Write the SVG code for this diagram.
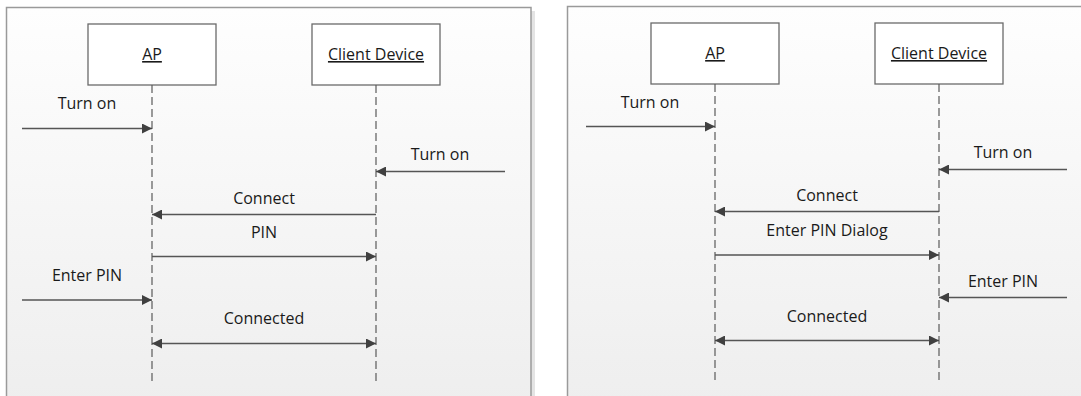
<svg xmlns="http://www.w3.org/2000/svg" width="1081" height="396" viewBox="0 0 1081 396">
  <defs>
    <linearGradient id="panelFill" x1="0" y1="0" x2="0" y2="1">
      <stop offset="0" stop-color="#fefefe"/>
      <stop offset="1" stop-color="#eeeeee"/>
    </linearGradient>
    <marker id="head" viewBox="0 0 10 10" refX="10" refY="5" markerWidth="10" markerHeight="10" markerUnits="userSpaceOnUse" orient="auto-start-reverse">
      <path d="M0,0 L10,5 L0,10 z" fill="#404040"/>
    </marker>
    <style>
      .panel { fill: url(#panelFill); stroke: #9a9a9a; stroke-width: 1.5; }
      .shadow { fill: #e4e4e4; }
      .box { fill: #ffffff; stroke: #6a6a6a; stroke-width: 1.3; }
      .life { stroke: #5a5a5a; stroke-width: 1.2; stroke-dasharray: 8 4; fill: none; }
      .msg { stroke: #555555; stroke-width: 1.4; fill: none; }
      .lbl { font-family: "Open Sans", "Liberation Sans", sans-serif; font-size: 16px; fill: #1a1a1a; text-anchor: middle; }
      .title { text-decoration: underline; }
    </style>
  </defs>

  <rect width="1081" height="396" fill="#ffffff"/>

  <!-- left scenario frame -->
  <g id="frame-left">
    <rect class="shadow" x="531" y="11" width="4" height="390"/>
    <rect class="panel" x="6.5" y="7.5" width="524.5" height="400"/>
  </g>

  <!-- right scenario frame -->
  <g id="frame-right">
    <rect class="panel" x="567.5" y="6.5" width="530" height="400"/>
  </g>

  <!-- left scenario participants -->
  <g id="ap-left">
    <rect class="box" x="88" y="24" width="128" height="61"/>
    <text class="lbl title" x="152" y="60">AP</text>
    <line class="life" x1="152" y1="85" x2="152" y2="383"/>
  </g>
  <g id="client-left">
    <rect class="box" x="312" y="24" width="128" height="61"/>
    <text class="lbl title" x="376" y="60">Client Device</text>
    <line class="life" x1="376" y1="85" x2="376" y2="383"/>
  </g>

  <!-- right scenario participants -->
  <g id="ap-right">
    <rect class="box" x="651" y="23" width="128" height="61"/>
    <text class="lbl title" x="715" y="59">AP</text>
    <line class="life" x1="715" y1="84" x2="715" y2="381"/>
  </g>
  <g id="client-right">
    <rect class="box" x="875" y="23" width="128" height="61"/>
    <text class="lbl title" x="939" y="59">Client Device</text>
    <line class="life" x1="939" y1="84" x2="939" y2="381"/>
  </g>

  <!-- messages -->
  <g id="connectors">
    <!-- left scenario -->
    <line class="msg" x1="22" y1="128.5" x2="152" y2="128.5" marker-end="url(#head)"/>
    <text class="lbl" x="87" y="109">Turn on</text>

    <line class="msg" x1="505" y1="171.5" x2="376" y2="171.5" marker-end="url(#head)"/>
    <text class="lbl" x="440" y="160">Turn on</text>

    <line class="msg" x1="376" y1="214.5" x2="152" y2="214.5" marker-end="url(#head)"/>
    <text class="lbl" x="264" y="204">Connect</text>

    <line class="msg" x1="152" y1="256.5" x2="376" y2="256.5" marker-end="url(#head)"/>
    <text class="lbl" x="264" y="238">PIN</text>

    <line class="msg" x1="22" y1="300" x2="152" y2="300" marker-end="url(#head)"/>
    <text class="lbl" x="87" y="281">Enter PIN</text>

    <line class="msg" x1="152" y1="343.5" x2="376" y2="343.5" marker-start="url(#head)" marker-end="url(#head)"/>
    <text class="lbl" x="264" y="324">Connected</text>

    <!-- right scenario -->
    <line class="msg" x1="586" y1="126.5" x2="715" y2="126.5" marker-end="url(#head)"/>
    <text class="lbl" x="650" y="108">Turn on</text>

    <line class="msg" x1="1067" y1="169.5" x2="939" y2="169.5" marker-end="url(#head)"/>
    <text class="lbl" x="1003" y="158">Turn on</text>

    <line class="msg" x1="939" y1="211.5" x2="715" y2="211.5" marker-end="url(#head)"/>
    <text class="lbl" x="827" y="201">Connect</text>

    <line class="msg" x1="715" y1="255" x2="939" y2="255" marker-end="url(#head)"/>
    <text class="lbl" x="827" y="236">Enter PIN Dialog</text>

    <line class="msg" x1="1067" y1="297.5" x2="939" y2="297.5" marker-end="url(#head)"/>
    <text class="lbl" x="1003" y="286.5">Enter PIN</text>

    <line class="msg" x1="715" y1="340.5" x2="939" y2="340.5" marker-start="url(#head)" marker-end="url(#head)"/>
    <text class="lbl" x="827" y="321.5">Connected</text>
  </g>
</svg>
